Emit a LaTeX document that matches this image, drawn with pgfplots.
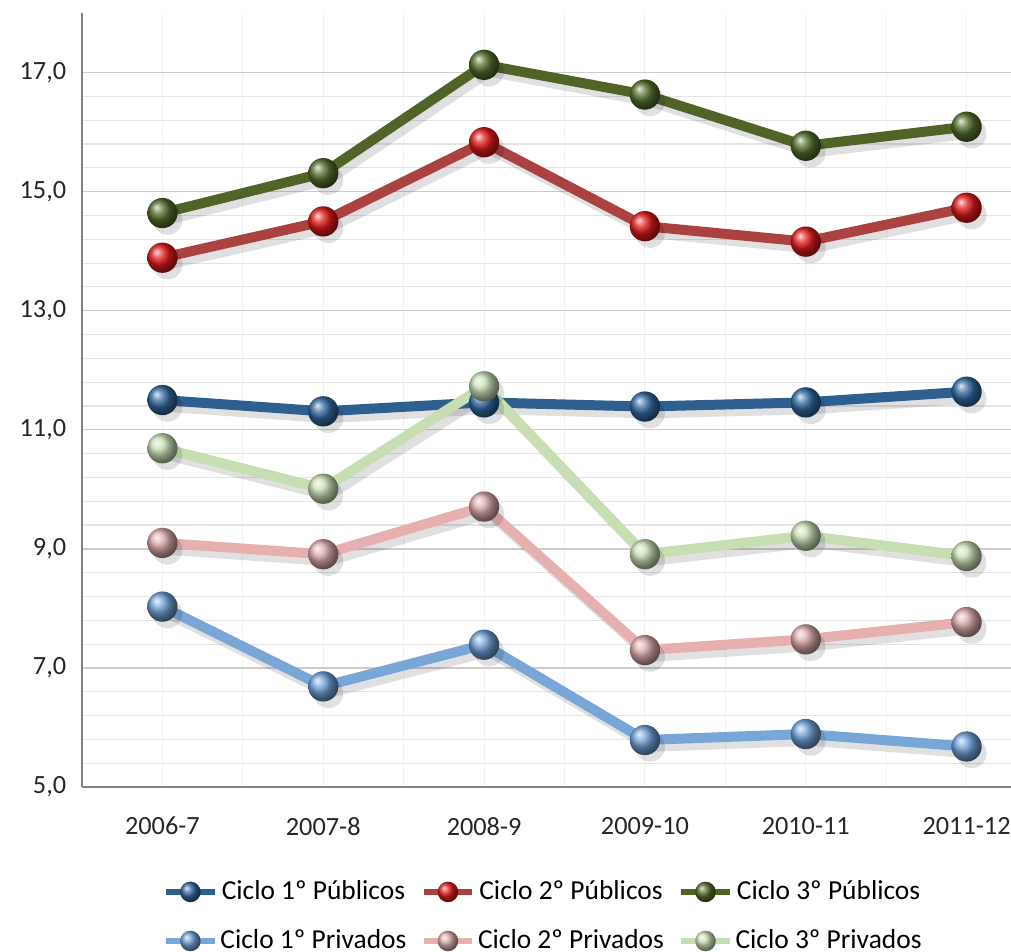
\documentclass[border=0pt]{standalone}
\usepackage{fontspec}
\setmainfont{Carlito}
\usepackage{pgfplots}
\usepackage{pgfplotstable}
\pgfplotsset{compat=1.18}

\definecolor{pubA}{RGB}{45,95,145}
\definecolor{pubAball}{RGB}{50,105,160}
\definecolor{pubB}{RGB}{172,66,64}
\definecolor{pubBball}{RGB}{225,25,25}
\definecolor{pubC}{RGB}{80,100,40}
\definecolor{pubCball}{RGB}{85,110,45}
\definecolor{priA}{RGB}{120,166,215}
\definecolor{priAball}{RGB}{110,160,215}
\definecolor{priB}{RGB}{230,176,176}
\definecolor{priBball}{RGB}{220,170,170}
\definecolor{priC}{RGB}{198,222,178}
\definecolor{priCball}{RGB}{200,222,180}
\definecolor{gmaj}{RGB}{205,205,205}
\definecolor{gmin}{RGB}{228,228,228}

\pgfplotstableread{
x pubA pubB pubC priA priB priC
0 11.50 13.89 14.64 8.03 9.10 10.69
1 11.31 14.50 15.31 6.69 8.91 10.01
2 11.46 15.83 17.13 7.39 9.71 11.73
3 11.39 14.42 16.63 5.79 7.30 8.91
4 11.46 14.16 15.77 5.89 7.48 9.22
5 11.64 14.73 16.09 5.68 7.77 8.88
}\data

\pgfplotsset{
  shadowline/.style = {black, opacity=0.12, line width=3.5pt, mark=*,
                       mark size=5.2pt, mark options={line width=0pt, draw opacity=0},
                       xshift=1.8pt, yshift=-2.4pt, forget plot},
  series/.style 2 args = {#1, line width=3.5pt, mark=ball, mark size=5.3pt,
                          mark options={ball color=#2, line width=0pt, draw opacity=0}},
}

\begin{document}
\begin{tikzpicture}
\begin{axis}[
  scale only axis,
  width=337.75pt, height=270.9pt,
  xmin=-0.5, xmax=5.5,
  ymin=5, ymax=18,
  xtick={0,...,5},
  xticklabels={2006-7,2007-8,2008-9,2009-10,2010-11,2011-12},
  ytick={5,7,9,11,13,15,17},
  minor y tick num=4,
  minor x tick num=1,
  yticklabel={\pgfmathprintnumber[fixed,fixed zerofill,precision=1,use comma]{\tick}},
  /pgf/number format/assume math mode=true,
  ticklabel style={font=\fontsize{9.2}{11}\selectfont, text=black!85},
  xticklabel style={yshift=-7pt},
  yticklabel style={xshift=-2pt},
  major tick length=0pt, minor tick length=0pt,
  axis x line*=bottom, axis y line*=left,
  axis line style={black!50, line width=0.6pt, -},
  ymajorgrids, yminorgrids, xmajorgrids, xminorgrids,
  y grid style={gmaj, line width=0.5pt},
  minor y grid style={gmin, line width=0.4pt},
  x grid style={black!5, line width=0.4pt},
  minor x grid style={black!5, line width=0.4pt},
  clip=false,
  legend columns=3,
  legend style={draw=none, fill=none, at={(0.48,-0.105)}, anchor=north,
                font=\fontsize{9.6}{11}\selectfont,
                /tikz/every even column/.append style={column sep=3pt},
                /tikz/every odd column/.append style={column sep=-1pt},
                row sep=5pt},
  legend image post style={line width=2pt, mark size=3.6pt},
]
% shadows
\addplot[shadowline] table[x=x, y=pubA] {\data};
\addplot[shadowline] table[x=x, y=pubB] {\data};
\addplot[shadowline] table[x=x, y=pubC] {\data};
\addplot[shadowline] table[x=x, y=priA] {\data};
\addplot[shadowline] table[x=x, y=priB] {\data};
\addplot[shadowline] table[x=x, y=priC] {\data};
% series
\addplot[series={pubA}{pubAball}] table[x=x, y=pubA] {\data};
\addlegendentry{Ciclo 1º Públicos}
\addplot[series={pubB}{pubBball}] table[x=x, y=pubB] {\data};
\addlegendentry{Ciclo 2º Públicos}
\addplot[series={pubC}{pubCball}] table[x=x, y=pubC] {\data};
\addlegendentry{Ciclo 3º Públicos}
\addplot[series={priA}{priAball}] table[x=x, y=priA] {\data};
\addlegendentry{Ciclo 1º Privados}
\addplot[series={priB}{priBball}] table[x=x, y=priB] {\data};
\addlegendentry{Ciclo 2º Privados}
\addplot[series={priC}{priCball}] table[x=x, y=priC] {\data};
\addlegendentry{Ciclo 3º Privados}
\end{axis}
\pgfresetboundingbox
\path[use as bounding box] (-28.7pt,-57.4pt) rectangle (325.15pt,275.45pt);
\end{tikzpicture}
\end{document}
